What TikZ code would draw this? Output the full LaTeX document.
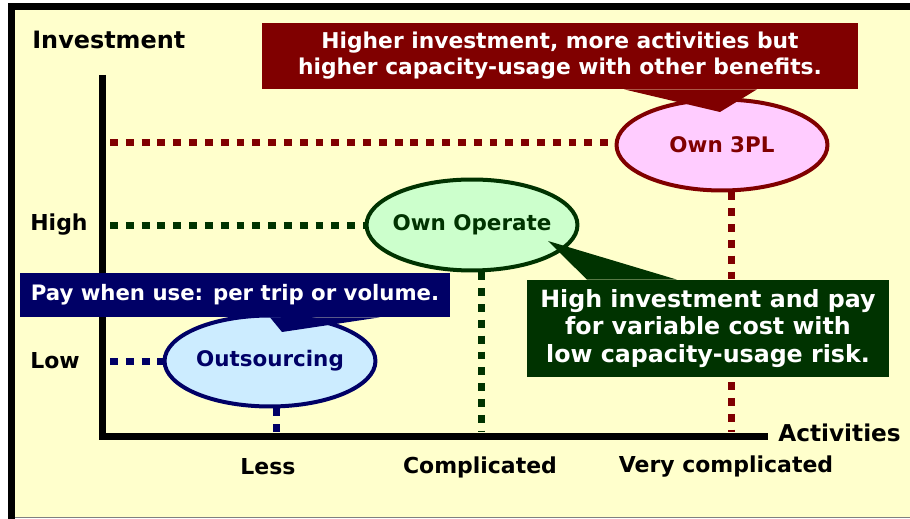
\documentclass[tikz,border=0pt]{standalone}
\usepackage{fontspec}
\setmainfont{DejaVu Sans}
\usepackage{tikz}
\usetikzlibrary{shapes.geometric}
\definecolor{paper}{HTML}{FFFFCC}
\definecolor{maroon}{HTML}{800000}
\definecolor{forest}{HTML}{003300}
\definecolor{navy}{HTML}{000066}
\definecolor{pinkfill}{HTML}{FFCCFF}
\definecolor{mintfill}{HTML}{CCFFCC}
\definecolor{skyfill}{HTML}{CCECFF}
\newcommand{\blobtext}[1]{\makebox[0pt]{#1}}

\begin{document}
\begin{tikzpicture}[x=0.02cm,y=-0.02cm,line join=miter]
\tikzstyle{lbl} = [font=\fontsize{12.5}{15}\selectfont\bfseries,inner sep=0pt]
\tikzstyle{blob} = [ellipse,line width=0.08cm,inner sep=0pt,minimum width=4.22cm,minimum height=1.82cm,font=\fontsize{12.2}{15}\selectfont\bfseries]
\tikzstyle{dotline} = [line width=0.14cm,dash pattern=on 4.5pt off 4.5pt]
\tikzstyle{note} = [text=white,align=center,inner sep=0pt]
\useasboundingbox (0,0) rectangle (910,519);
\fill[white] (0,0) rectangle (910,519);
\fill[paper] (15,10) rectangle (910,517);
\draw[gray,thin] (15,517) -- (910,517);
\fill[black] (8,3) rectangle (15,519);
\fill[black] (8,3) rectangle (910,10);
\draw[line width=0.14cm] (102,75) -- (102,437) -- (768,437);
\node[lbl,anchor=west,font=\fontsize{13.6}{15}\selectfont\bfseries] (yname) at (32,40) {Investment};
\node[lbl,anchor=west,font=\fontsize{13.2}{15}\selectfont\bfseries] (xname) at (778,433) {Activities};
\node[lbl,anchor=west] (high) at (30,225) {High};
\node[lbl,anchor=west] (low) at (30,361) {Low};
\node[lbl] (less) at (268,467) {Less};
\node[lbl] (compl) at (480,467) {Complicated};
\node[lbl] (vcompl) at (726,467) {Very complicated};
\node[blob,draw=maroon,fill=pinkfill,text=maroon] (tpl) at (722,145) {\blobtext{Own 3PL}};
\node[blob,draw=forest,fill=mintfill,text=forest] (oper) at (472,225) {\blobtext{Own Operate}};
\node[blob,draw=navy,fill=skyfill,text=navy] (outs) at (270,361) {\blobtext{Outsourcing}};
\coordinate (tplY) at (110,143);
\coordinate (tplX) at (731,432);
\coordinate (operY) at (110,226);
\coordinate (operX) at (481,432);
\coordinate (outsY) at (110,362);
\coordinate (outsX) at (276,432);
\draw[dotline,maroon] (tplY) -- (tplY -| tpl.west);
\draw[dotline,maroon] (tplX |- tpl.south) -- (tplX);
\draw[dotline,forest] (operY) -- (operY -| oper.west);
\draw[dotline,forest] (operX |- oper.south) -- (operX);
\draw[dotline,navy] (outsY) -- (outsY -| outs.west);
\draw[dotline,navy] (outsX |- outs.south) -- (outsX);
\node[note,fill=maroon,minimum width=11.92cm,minimum height=1.32cm,font=\fontsize{12.4}{14.8}\selectfont\bfseries] (topnote) at (560,56) {Higher investment, more activities but\\higher capacity-usage with other benefits.};
\coordinate (topTip) at (720,112);
\fill[maroon] (624,0 |- topnote.south) -- (topTip) -- (757,0 |- topnote.south) -- cycle;
\node[note,fill=navy,minimum width=8.6cm,minimum height=0.88cm,font=\fontsize{12.1}{15}\selectfont\bfseries] (paynote) at (235,295) {Pay when use: per trip or volume.};
\coordinate (payTip) at (282,332);
\fill[navy] (270,0 |- paynote.south) -- (payTip) -- (380,0 |- paynote.south) -- cycle;
\node[note,fill=forest,minimum width=7.24cm,minimum height=1.94cm,font=\fontsize{13.5}{15.5}\selectfont\bfseries] (greennote) at (708,328.5) {High investment and pay\\for variable cost with\\low capacity-usage risk.};
\coordinate (greenTip) at (548,241);
\fill[forest] (587,0 |- greennote.north) -- (greenTip) -- (677,0 |- greennote.north) -- cycle;
\end{tikzpicture}
\end{document}
